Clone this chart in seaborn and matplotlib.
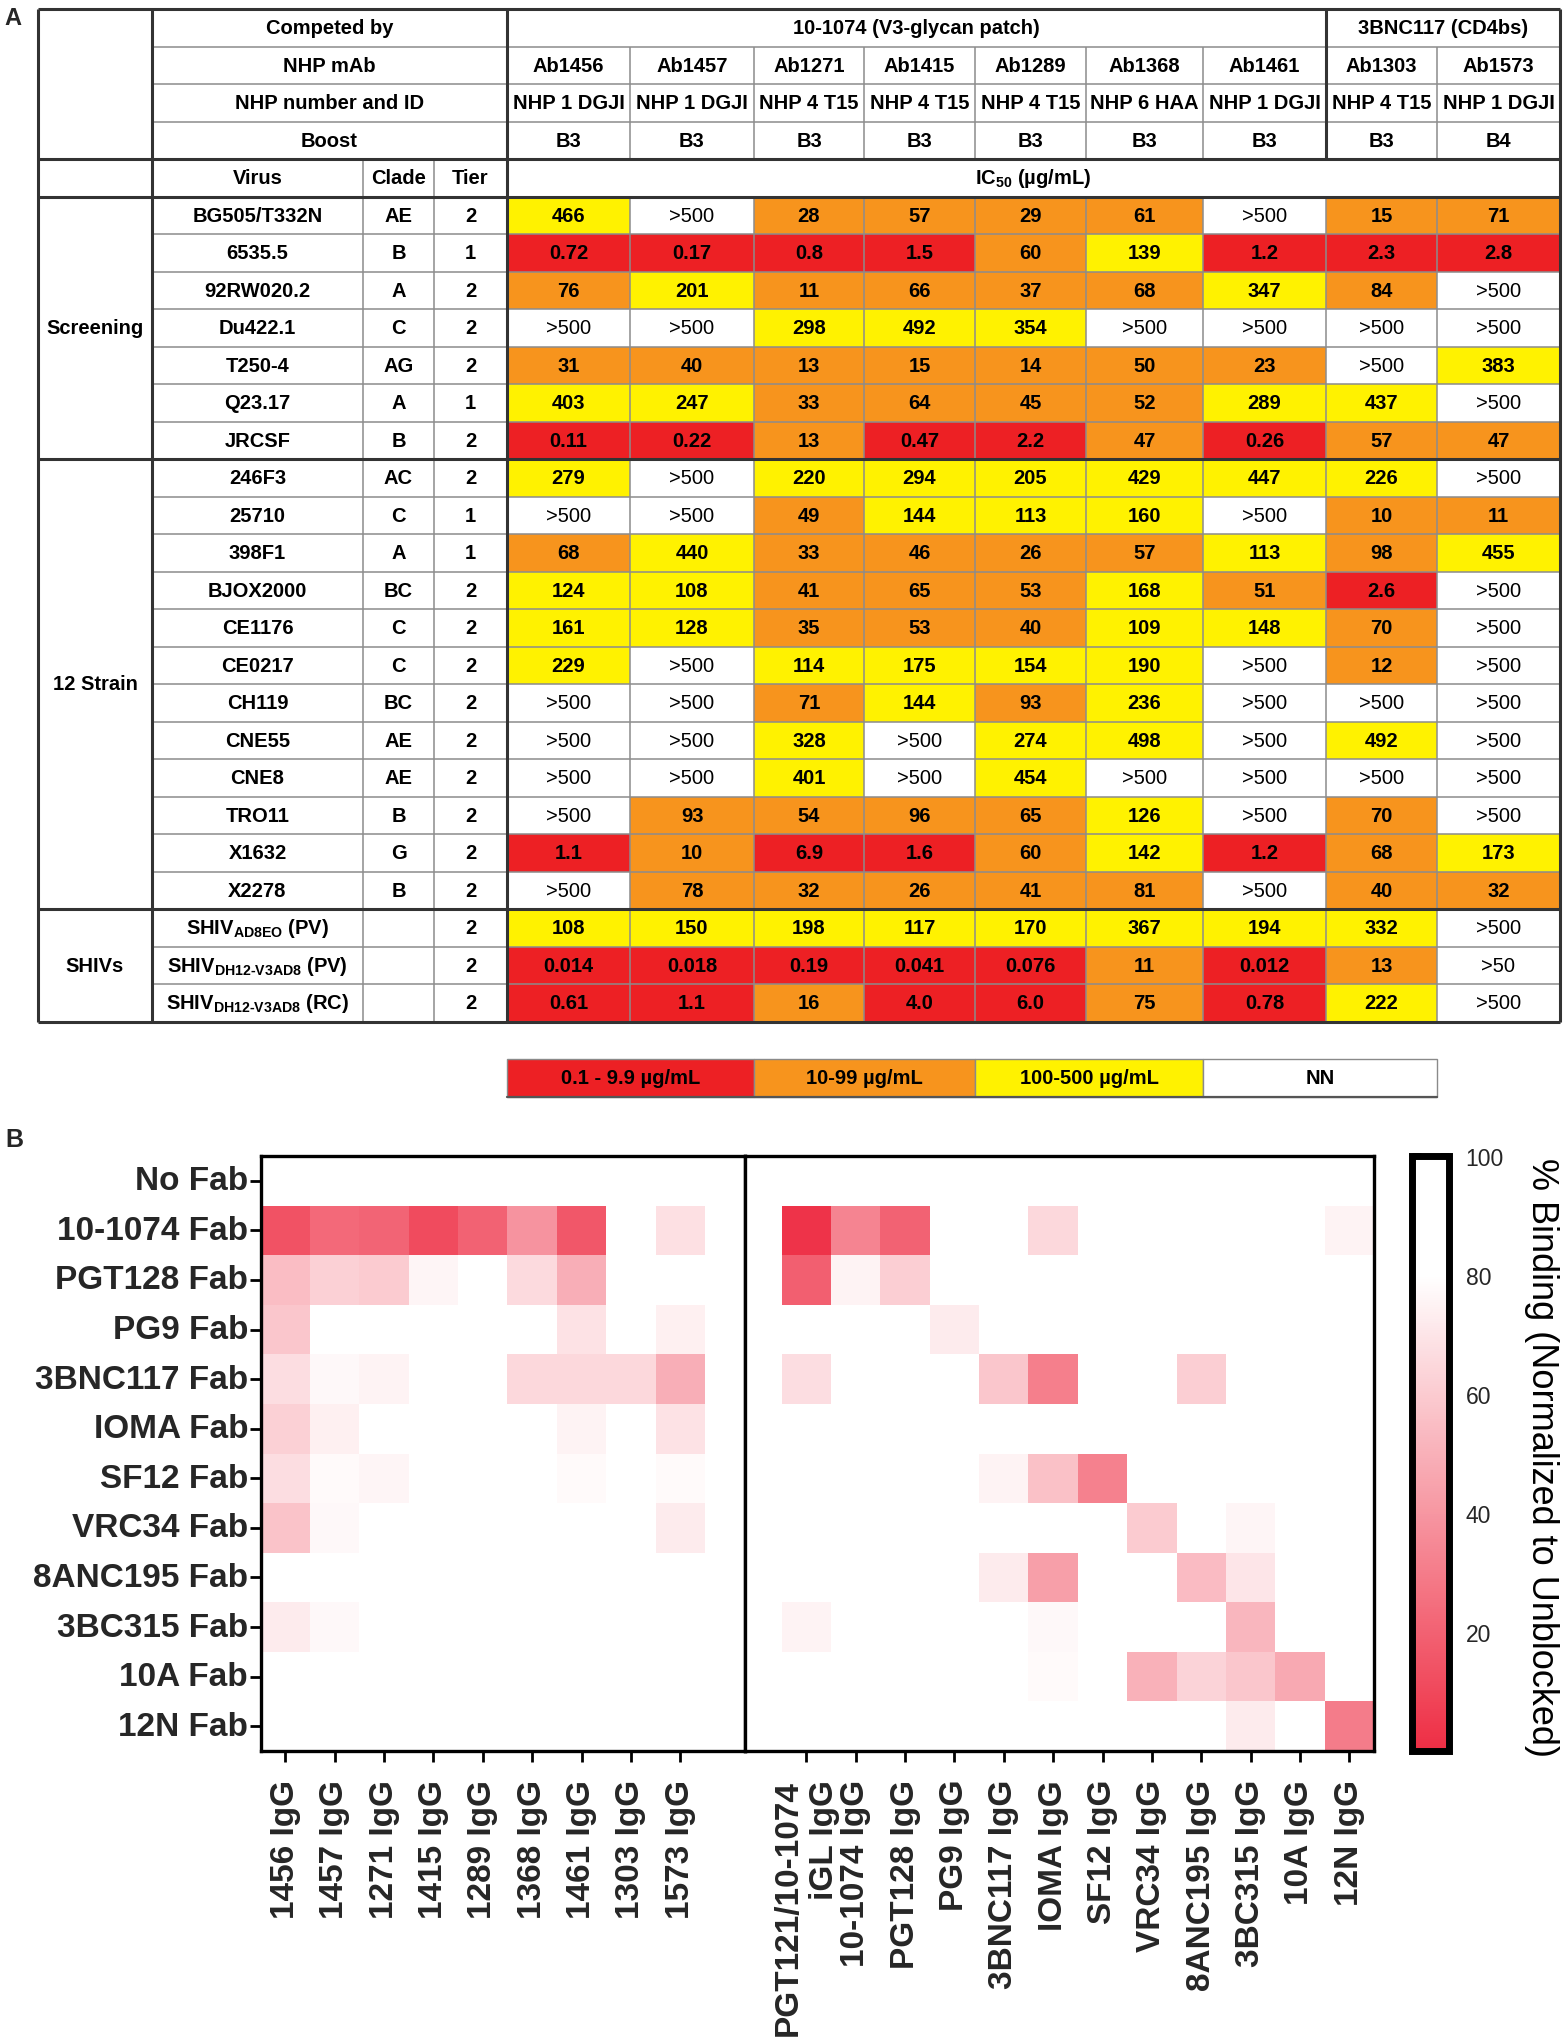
import numpy as np
import pandas as pd
import matplotlib
matplotlib.use("Agg")
import matplotlib.pyplot as plt
import seaborn as sns
from matplotlib.colors import ListedColormap, LinearSegmentedColormap
from matplotlib.patches import Rectangle

sns.set_theme(style="white")
plt.rcParams["font.family"] = ["Liberation Sans", "DejaVu Sans"]
plt.rcParams["mathtext.fontset"] = "custom"
plt.rcParams["mathtext.rm"] = "Liberation Sans:bold"
plt.rcParams["mathtext.it"] = "Liberation Sans:bold"
plt.rcParams["mathtext.bf"] = "Liberation Sans:bold"

# ---------------- Panel A data ----------------
competed_groups = ["10-1074 (V3-glycan patch)", "3BNC117 (CD4bs)"]
competed_sizes = [7, 2]
nhp_mabs = ["Ab1456", "Ab1457", "Ab1271", "Ab1415", "Ab1289", "Ab1368", "Ab1461", "Ab1303", "Ab1573"]
nhp_ids = ["NHP 1 DGJI", "NHP 1 DGJI", "NHP 4 T15", "NHP 4 T15", "NHP 4 T15", "NHP 6 HAA", "NHP 1 DGJI", "NHP 4 T15", "NHP 1 DGJI"]
boosts = ["B3", "B3", "B3", "B3", "B3", "B3", "B3", "B3", "B4"]

virus_groups = ["Screening", "12 Strain", "SHIVs"]
virus_group_sizes = [7, 12, 3]
viruses = ["BG505/T332N", "6535.5", "92RW020.2", "Du422.1", "T250-4", "Q23.17", "JRCSF",
           "246F3", "25710", "398F1", "BJOX2000", "CE1176", "CE0217", "CH119", "CNE55", "CNE8",
           "TRO11", "X1632", "X2278",
           "SHIV$_{\\mathrm{AD8EO}}$ (PV)", "SHIV$_{\\mathrm{DH12\u2010V3AD8}}$ (PV)", "SHIV$_{\\mathrm{DH12\u2010V3AD8}}$ (RC)"]
clades = ["AE", "B", "A", "C", "AG", "A", "B",
          "AC", "C", "A", "BC", "C", "C", "BC", "AE", "AE", "B", "G", "B",
          "", "", ""]
tiers = ["2", "1", "2", "2", "2", "1", "2",
         "2", "1", "1", "2", "2", "2", "2", "2", "2", "2", "2", "2",
         "2", "2", "2"]
ic50 = [
    ["466", ">500", "28", "57", "29", "61", ">500", "15", "71"],
    ["0.72", "0.17", "0.8", "1.5", "60", "139", "1.2", "2.3", "2.8"],
    ["76", "201", "11", "66", "37", "68", "347", "84", ">500"],
    [">500", ">500", "298", "492", "354", ">500", ">500", ">500", ">500"],
    ["31", "40", "13", "15", "14", "50", "23", ">500", "383"],
    ["403", "247", "33", "64", "45", "52", "289", "437", ">500"],
    ["0.11", "0.22", "13", "0.47", "2.2", "47", "0.26", "57", "47"],
    ["279", ">500", "220", "294", "205", "429", "447", "226", ">500"],
    [">500", ">500", "49", "144", "113", "160", ">500", "10", "11"],
    ["68", "440", "33", "46", "26", "57", "113", "98", "455"],
    ["124", "108", "41", "65", "53", "168", "51", "2.6", ">500"],
    ["161", "128", "35", "53", "40", "109", "148", "70", ">500"],
    ["229", ">500", "114", "175", "154", "190", ">500", "12", ">500"],
    [">500", ">500", "71", "144", "93", "236", ">500", ">500", ">500"],
    [">500", ">500", "328", ">500", "274", "498", ">500", "492", ">500"],
    [">500", ">500", "401", ">500", "454", ">500", ">500", ">500", ">500"],
    [">500", "93", "54", "96", "65", "126", ">500", "70", ">500"],
    ["1.1", "10", "6.9", "1.6", "60", "142", "1.2", "68", "173"],
    [">500", "78", "32", "26", "41", "81", ">500", "40", "32"],
    ["108", "150", "198", "117", "170", "367", "194", "332", ">500"],
    ["0.014", "0.018", "0.19", "0.041", "0.076", "11", "0.012", "13", ">50"],
    ["0.61", "1.1", "16", "4.0", "6.0", "75", "0.78", "222", ">500"],
]
legend_labels = ["0.1 - 9.9 \u00b5g/mL", "10-99 \u00b5g/mL", "100-500 \u00b5g/mL", "NN"]
table_colors = ["#ED2024", "#F7941D", "#FFF200", "#FFFFFF"]

# ---------------- Panel B data ----------------
fab_rows = ["No Fab", "10-1074 Fab", "PGT128 Fab", "PG9 Fab", "3BNC117 Fab", "IOMA Fab",
            "SF12 Fab", "VRC34 Fab", "8ANC195 Fab", "3BC315 Fab", "10A Fab", "12N Fab"]
nhp_igg = ["1456 IgG", "1457 IgG", "1271 IgG", "1415 IgG", "1289 IgG", "1368 IgG",
           "1461 IgG", "1303 IgG", "1573 IgG"]
ctrl_igg = ["PGT121/10-1074\niGL IgG", "10-1074 IgG", "PGT128 IgG", "PG9 IgG", "3BNC117 IgG",
            "IOMA IgG", "SF12 IgG", "VRC34 IgG", "8ANC195 IgG", "3BC315 IgG", "10A IgG", "12N IgG"]
binding_nhp = [
    [100, 100, 100, 100, 100, 100, 100, 100, 100],
    [14, 23, 21, 11, 20, 39, 16, 100, 68],
    [55, 62, 60, 76, 100, 66, 49, 100, 100],
    [58, 100, 100, 100, 100, 100, 69, 100, 74],
    [67, 77, 75, 100, 100, 65, 65, 65, 49],
    [62, 74, 100, 100, 100, 100, 75, 100, 69],
    [67, 78, 76, 100, 100, 100, 78, 100, 78],
    [57, 77, 100, 100, 100, 100, 100, 100, 72],
    [100, 100, 100, 100, 100, 100, 100, 100, 100],
    [72, 77, 100, 100, 100, 100, 100, 100, 100],
    [100, 100, 100, 100, 100, 100, 100, 100, 100],
    [100, 100, 100, 100, 100, 100, 100, 100, 100],
]
binding_ctrl = [
    [100, 100, 100, 100, 100, 100, 100, 100, 100, 100, 100, 100],
    [2, 33, 20, 100, 100, 65, 100, 100, 100, 100, 100, 75],
    [19, 75, 61, 100, 100, 100, 100, 100, 100, 100, 100, 100],
    [100, 100, 100, 72, 100, 100, 100, 100, 100, 100, 100, 100],
    [67, 100, 100, 100, 58, 31, 100, 100, 61, 100, 100, 100],
    [100, 100, 100, 100, 100, 100, 100, 100, 100, 100, 100, 100],
    [100, 100, 100, 100, 75, 56, 32, 100, 100, 100, 100, 100],
    [100, 100, 100, 100, 100, 100, 100, 60, 100, 76, 100, 100],
    [100, 100, 100, 100, 72, 43, 100, 100, 54, 70, 100, 100],
    [75, 100, 100, 100, 100, 77, 100, 100, 100, 52, 100, 100],
    [100, 100, 100, 100, 100, 78, 100, 50, 63, 58, 47, 100],
    [100, 100, 100, 100, 100, 100, 100, 100, 100, 72, 100, 30],
]
cbar_ticks = [20, 40, 60, 80, 100]

# ---------------- layout helpers ----------------
W, H = 1563, 2040
fig = plt.figure(figsize=(W / 100, H / 100), dpi=100)
fig.patch.set_facecolor("white")


def rect(x0, y0, x1, y1):
    return [x0 / W, 1 - y1 / H, (x1 - x0) / W, (y1 - y0) / H]


xe = [38, 152, 363, 434, 507, 630, 754, 864, 975, 1086, 1203, 1326, 1437, 1560]
ROW_H = 37.5
Y0 = 10


def Y(k):
    return Y0 + ROW_H * k


FS = 14.5
n_hdr = 5
n_data = len(viruses)
n_rows = n_hdr + n_data

ax0 = fig.add_axes([0, 0, 1, 1])
ax0.set_xlim(0, W)
ax0.set_ylim(H, 0)
ax0.axis("off")

txt = dict(ha="center", va="center", fontsize=FS, fontweight="bold", color="black")


def cx(a, b):
    return (xe[a] + xe[b]) / 2


def cy(k0, k1):
    return (Y(k0) + Y(k1)) / 2


# header texts
ax0.text(cx(1, 4), cy(0, 1), "Competed by", **txt)
ax0.text(cx(1, 4), cy(1, 2), "NHP mAb", **txt)
ax0.text(cx(1, 4), cy(2, 3), "NHP number and ID", **txt)
ax0.text(cx(1, 4), cy(3, 4), "Boost", **txt)
c0 = 4
for name, size in zip(competed_groups, competed_sizes):
    ax0.text(cx(c0, c0 + size), cy(0, 1), name, **txt)
    c0 += size
for j in range(len(nhp_mabs)):
    ax0.text(cx(4 + j, 5 + j), cy(1, 2), nhp_mabs[j], **txt)
    ax0.text(cx(4 + j, 5 + j), cy(2, 3), nhp_ids[j], **txt)
    ax0.text(cx(4 + j, 5 + j), cy(3, 4), boosts[j], **txt)
ax0.text(cx(1, 2), cy(4, 5), "Virus", **txt)
ax0.text(cx(2, 3), cy(4, 5), "Clade", **txt)
ax0.text(cx(3, 4), cy(4, 5), "Tier", **txt)
ax0.text(cx(4, 13), cy(4, 5), "IC$_{50}$ (\u00b5g/mL)", **txt)

# virus rows
for i in range(n_data):
    k = n_hdr + i
    ax0.text(cx(1, 2), cy(k, k + 1), viruses[i], **txt)
    ax0.text(cx(2, 3), cy(k, k + 1), clades[i], **txt)
    ax0.text(cx(3, 4), cy(k, k + 1), tiers[i], **txt)
k0 = n_hdr
for name, size in zip(virus_groups, virus_group_sizes):
    ax0.text(cx(0, 1), cy(k0, k0 + size), name, **txt)
    k0 += size


# IC50 cells via seaborn heatmap (one axes per column for exact widths)
def category(s):
    if s.startswith(">"):
        return 3
    v = float(s)
    if v < 10:
        return 0
    if v < 100:
        return 1
    return 2


labels = np.array(ic50, dtype=object)
codes = np.vectorize(category)(labels).astype(float)
tcmap = ListedColormap(table_colors)
for j in range(len(nhp_mabs)):
    axj = fig.add_axes(rect(xe[4 + j], Y(n_hdr), xe[5 + j], Y(n_rows)))
    sns.heatmap(pd.DataFrame(codes[:, [j]]), cmap=tcmap, vmin=-0.5, vmax=3.5, cbar=False,
                annot=labels[:, [j]], fmt="", linewidths=0,
                annot_kws=dict(color="black", fontsize=FS, fontweight="bold"),
                xticklabels=False, yticklabels=False, ax=axj)
    for t in axj.texts:
        if t.get_text().startswith(">"):
            t.set_fontweight("normal")
    axj.axis("off")

# legend of table colours
ly0, ly1 = 1060, 1098
for k in range(4):
    xa, xb = xe[4 + 2 * k], xe[6 + 2 * k]
    ax0.add_patch(Rectangle((xa, ly0), xb - xa, ly1 - ly0, facecolor=table_colors[k],
                            edgecolor="#8a8a8a", lw=1.0, zorder=1))
    ax0.text((xa + xb) / 2, (ly0 + ly1) / 2, legend_labels[k], zorder=3, **txt)
ax0.plot([xe[4], xe[12]], [ly1, ly1], color="#555555", lw=1.6, zorder=2)

# table lines overlay
axl = fig.add_axes([0, 0, 1, 1])
axl.set_xlim(0, W)
axl.set_ylim(H, 0)
axl.axis("off")
thin = dict(color="#8c8c8c", lw=1.1)
thick = dict(color="#333333", lw=2.2)
bounds = [0, n_hdr - 1, n_hdr, n_rows]
kk = n_hdr
for s in virus_group_sizes[:-1]:
    kk += s
    bounds.append(kk)
for k in range(n_rows + 1):
    if k not in bounds:
        axl.hlines(Y(k), xe[1], xe[-1], **thin)
grp_edge = xe[4 + competed_sizes[0]]
for x in (xe[2], xe[3]):
    axl.vlines(x, Y(n_hdr - 1), Y(n_rows), **thin)
for x in xe[5:13]:
    if x != grp_edge:
        axl.vlines(x, Y(1), Y(n_hdr - 1), **thin)
    axl.vlines(x, Y(n_hdr), Y(n_rows), **thin)
axl.vlines(grp_edge, Y(0), Y(n_hdr - 1), **thick)
for k in bounds:
    axl.hlines(Y(k), xe[0], xe[-1], **thick)
for x in (xe[0], xe[1], xe[4], xe[-1]):
    axl.vlines(x, Y(0), Y(n_rows), **thick)

# panel letters
ax0.text(4, 7, "A", fontsize=17, fontweight="bold", ha="left", va="top")
ax0.text(5, 1128, "B", fontsize=18, fontweight="bold", ha="left", va="top")

# ---------------- Panel B heatmap ----------------
bind_cmap = LinearSegmentedColormap.from_list(
    "bind", [(0.0, "#EE2E44"), (0.8, "#FFFFFF"), (1.0, "#FFFFFF")])
hx0, hy0, hy1, hx1 = 260.5, 1157, 1752, 1374
cw = 49.4
left_span = 9.8
right_pad = 0.75
xdiv = hx0 + left_span * cw

dfL = pd.DataFrame(binding_nhp, index=fab_rows, columns=nhp_igg)
dfR = pd.DataFrame(binding_ctrl, index=fab_rows, columns=ctrl_igg)

axL = fig.add_axes(rect(hx0, hy0, xdiv, hy1))
sns.heatmap(dfL, cmap=bind_cmap, vmin=0, vmax=100, cbar=False, linewidths=0, ax=axL)
axL.set_xlim(0, left_span)
axR = fig.add_axes(rect(xdiv, hy0, hx1, hy1))
sns.heatmap(dfR, cmap=bind_cmap, vmin=0, vmax=100, cbar=False, linewidths=0, ax=axR)
axR.set_xlim(-right_pad, len(ctrl_igg))

LFS = 24
for a in (axL, axR):
    for s in a.spines.values():
        s.set_visible(True)
        s.set_color("black")
        s.set_linewidth(2.4)
    a.tick_params(axis="x", bottom=True, direction="out", length=8, width=2.0,
                  color="black", pad=12)
    a.set_xticks(np.arange(len(a.get_xticklabels())) + 0.5)
    a.set_xlabel("")
    a.set_ylabel("")
axL.set_xticklabels(nhp_igg, rotation=90, fontsize=LFS, fontweight="bold")
axR.set_xticklabels(ctrl_igg, rotation=90, fontsize=LFS, fontweight="bold")
for lab in axR.get_xticklabels():
    lab.set_multialignment("right")
axL.tick_params(axis="y", left=True, direction="out", length=8, width=2.0, color="black", pad=1)
axL.set_yticklabels(fab_rows, rotation=0, fontsize=LFS, fontweight="bold")
axR.set_yticks([])

cax = fig.add_axes(rect(1412, hy0, 1449, hy1))
cb = fig.colorbar(axL.collections[0], cax=cax)
cb.outline.set_linewidth(5)
cb.outline.set_edgecolor("black")
cb.set_ticks(cbar_ticks)
cb.ax.minorticks_off()
cax.tick_params(axis="y", which="major", direction="in", length=6.5, width=5, color="black",
                left=True, right=True, labelleft=False, labelright=True, labelsize=16.5, pad=12)
ax0.text(1541, 1458, "% Binding (Normalized to Unblocked)", rotation=270, fontsize=26,
         ha="center", va="center", color="black")

fig.savefig("out.png", dpi=100, facecolor="white")
